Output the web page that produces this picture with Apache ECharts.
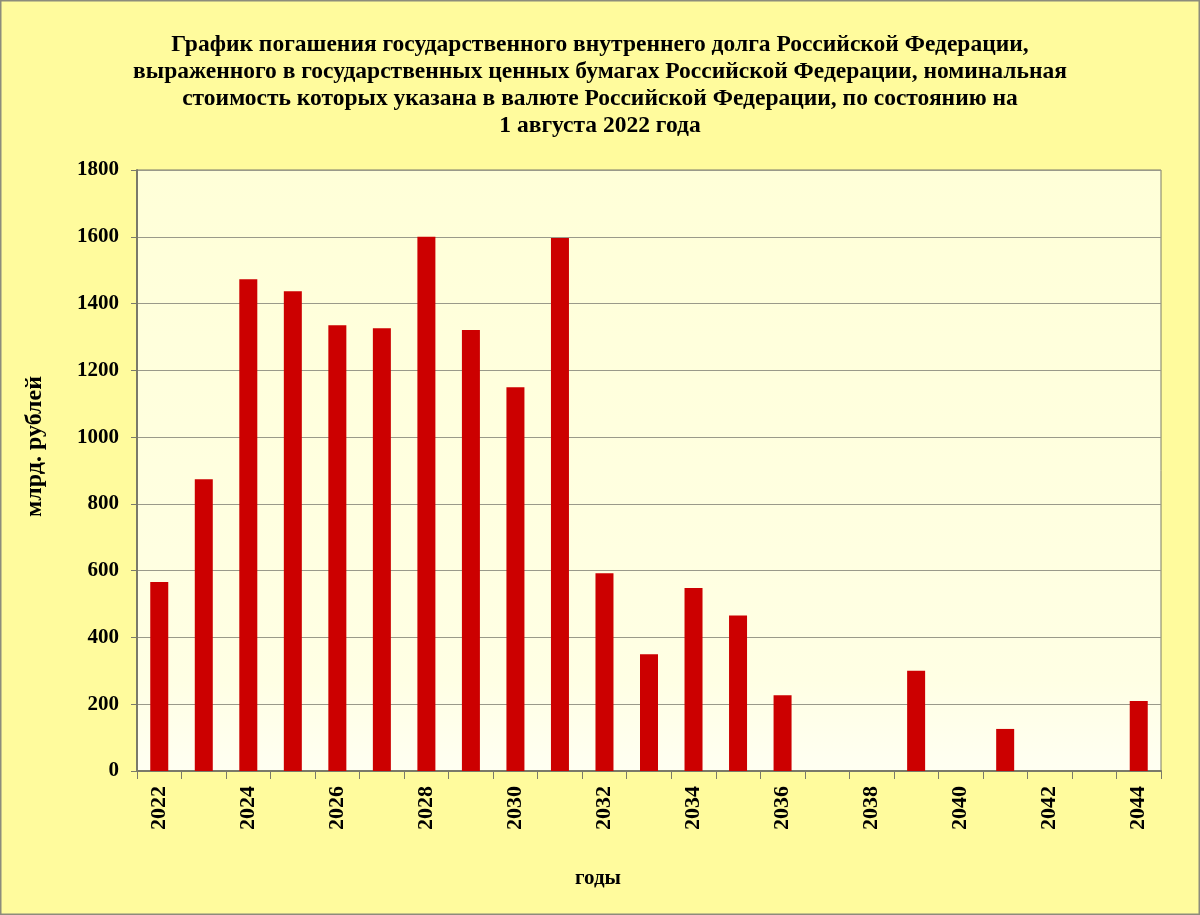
<!DOCTYPE html>
<html><head><meta charset="utf-8">
<script src="https://cdn.jsdelivr.net/npm/echarts@6/dist/echarts.min.js"></script>
<style>html,body{margin:0;padding:0;background:#FFFB9D;}#c{width:1200px;height:915px;}</style>
</head><body><div id="c"></div>
<script>
const years = ['2022','2023','2024','2025','2026','2027','2028','2029','2030','2031','2032','2033','2034','2035','2036','2037','2038','2039','2040','2041','2042','2043','2044'];
const values = [566, 874, 1473, 1437, 1335, 1326, 1600, 1321, 1149, 1596, 592, 350, 548, 466, 227, 0, 0, 300, 0, 126, 0, 0, 210];
const titleText = 'График погашения государственного внутреннего долга Российской Федерации,\nвыраженного в государственных ценных бумагах Российской Федерации, номинальная\nстоимость которых указана в валюте Российской Федерации, по состоянию на\n1 августа 2022 года';
const yName = 'млрд. рублей';
const xName = 'годы';
const serif = '"Liberation Serif", "DejaVu Serif", serif';
const chart = echarts.init(document.getElementById('c'));
chart.setOption({
  backgroundColor: '#FFFB9D',
  animation: false,
  title: {
    text: titleText, left: 'center', top: 26,
    textStyle: {fontFamily: serif, fontSize: 23.5, fontWeight: 'bold', lineHeight: 27, color: '#000', align: 'center'}
  },
  graphic: [{
    type: 'rect', shape: {x: 0.5, y: 0.5, width: 1199, height: 914},
    style: {fill: 'none', stroke: '#8c8c7c', lineWidth: 2}, silent: true
  }],
  grid: {
    left: 137, right: 39, top: 170, bottom: 144, show: true,
    backgroundColor: {type: 'linear', x: 0, y: 0, x2: 0, y2: 1, colorStops: [
      {offset: 0, color: '#FFFFD8'}, {offset: 0.85, color: '#FFFFE4'}, {offset: 1, color: '#FFFFF2'}]},
    borderColor: '#7a7a6a', borderWidth: 1
  },
  xAxis: {
    type: 'category', data: years, boundaryGap: true,
    name: xName, nameLocation: 'middle', nameGap: 97,
    nameTextStyle: {fontFamily: serif, fontSize: 21, fontWeight: 'bold', color: '#000', padding: [0, 102, 0, 0]},
    axisLine: {lineStyle: {color: '#7a7a6a', width: 2}},
    axisTick: {show: true, interval: 0, length: 8, lineStyle: {color: '#7a7a6a'}},
    axisLabel: {interval: 1, rotate: 90, margin: 15, fontFamily: serif, fontSize: 22, fontWeight: 'bold', color: '#000'},
    splitLine: {show: false}
  },
  yAxis: {
    type: 'value', min: 0, max: 1800, interval: 200,
    name: yName, nameLocation: 'middle', nameGap: 90, nameRotate: 90,
    nameTextStyle: {fontFamily: serif, fontSize: 24, fontWeight: 'bold', color: '#000', padding: [0, 0, 0, 48]},
    axisLine: {show: true, lineStyle: {color: '#7a7a6a', width: 2}},
    axisTick: {show: true, length: 6, lineStyle: {color: '#7a7a6a'}},
    axisLabel: {margin: 18, fontFamily: serif, fontSize: 21, fontWeight: 'bold', color: '#000', formatter: v => String(v)},
    splitLine: {show: true, lineStyle: {color: '#9a9a8a', width: 1}}
  },
  series: [{
    type: 'bar', data: values, barWidth: 18,
    itemStyle: {color: '#CC0000'}
  }]
});
</script></body></html>
